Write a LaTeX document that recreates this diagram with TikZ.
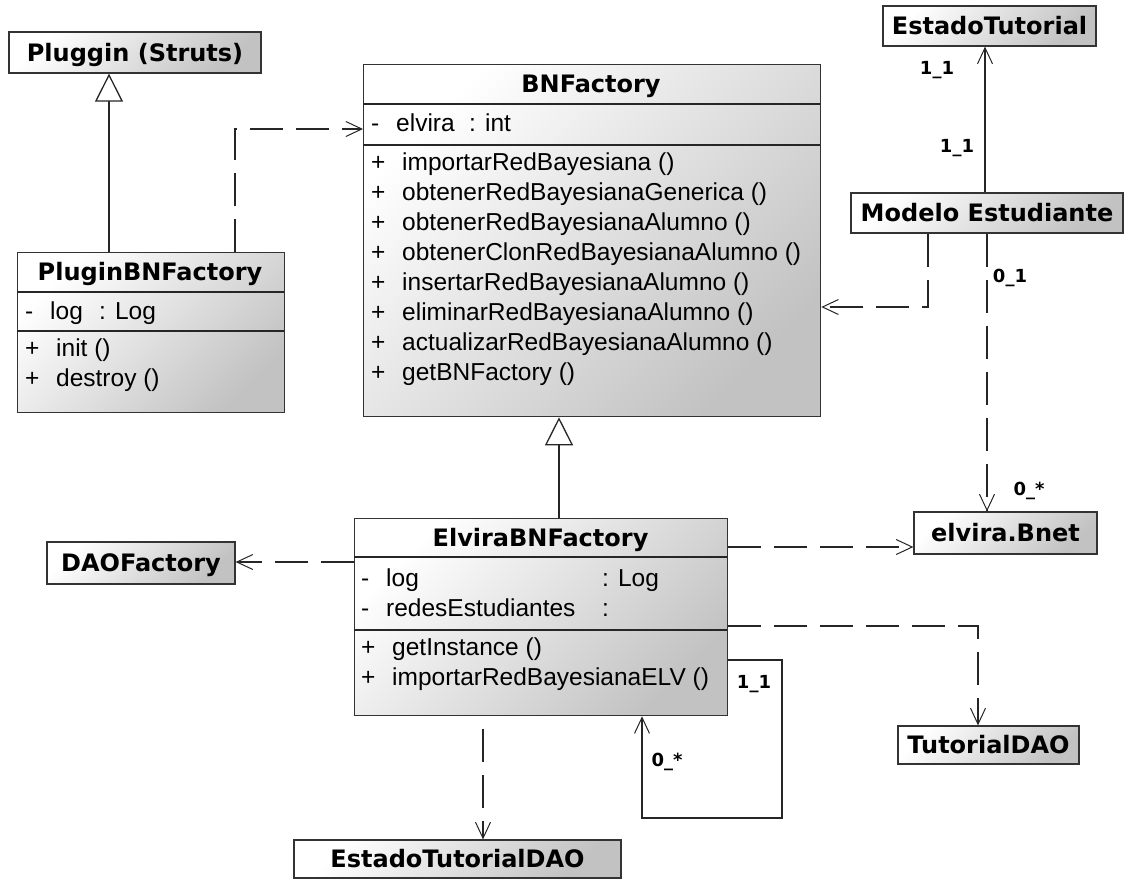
\documentclass[tikz,border=0pt]{standalone}
\usepackage{fontspec}
\setmainfont{Liberation Sans}
\newfontfamily\boxfont{DejaVu Sans}
\usetikzlibrary{arrows.meta}

\newcommand{\pub}{\makebox[31pt][l]{+}}
\newcommand{\priv}{\makebox[25pt][l]{-}}

\begin{document}
\begin{tikzpicture}[x=1pt, y=-1pt,
  shadebox/.style={draw=black!80, line width=1.3pt, inner sep=0pt, top color=white, bottom color=black!24, shading angle=45},
  classbox/.style={shadebox, anchor=north west},
  namebox/.style={shadebox, font=\boxfont\bfseries\fontsize{24}{24}\selectfont, text height=17.5pt, text depth=0pt},
  ctitle/.style={font=\boxfont\bfseries\fontsize{24}{24}\selectfont, text height=17.5pt, text depth=0pt, inner sep=0pt},
  member/.style={anchor=west, inner sep=0pt, font=\fontsize{24.5}{24.5}\selectfont, text height=17pt, text depth=5pt},
  mult/.style={font=\boxfont\bfseries\fontsize{18}{18}\selectfont, inner sep=0pt},
  link/.style={line width=1.2pt, draw=black!85},
  dashlink/.style={link, dash pattern=on 33pt off 13pt},
  opentip/.style={-{Straight Barb[length=16pt, width=15pt, line width=1pt]}},
  gen/.style={link, -{Triangle[open, length=28pt, width=28pt, fill=white, line width=1.3pt]}}]

 \useasboundingbox (0,0) rectangle (1124,879) ;

 %%%%%%%%%% Points pour les liens %%%%%%%%%%
 \coordinate (g1) at (109,160) ;
 \coordinate (g2) at (559,470) ;
 \coordinate (d1) at (235,129) ;
 \coordinate (d2) at (928,307) ;
 \coordinate (d3) at (300,562) ;
 \coordinate (d4) at (800,547) ;
 \coordinate (d5) at (978,626) ;
 \coordinate (d6) at (483,780) ;
 \coordinate (a1) at (985,120) ;
 \coordinate (a2) at (987,380) ;
 \coordinate (s1) at (782,660) ;
 \coordinate (s2) at (782,818) ;
 \coordinate (s3) at (642,818) ;

 %%%%%%%%%% Classes simples %%%%%%%%%%
 \node [namebox, minimum width=252pt, minimum height=41pt] (Plug) at (135,52.5) {Pluggin (Struts)} ;
 \node [namebox, minimum width=213pt, minimum height=40pt] (EstTut) at (989.5,26) {EstadoTutorial} ;
 \node [namebox, minimum width=272pt, minimum height=40pt] (Modelo) at (987,213) {Modelo Estudiante} ;
 \node [namebox, minimum width=183pt, minimum height=42pt] (Bnet) at (1005.5,533) {elvira.Bnet} ;
 \node [namebox, minimum width=188pt, minimum height=42pt] (DAOF) at (141,563) {DAOFactory} ;
 \node [namebox, minimum width=181pt, minimum height=38pt] (TutDAO) at (988.5,745) {TutorialDAO} ;
 \node [namebox, minimum width=327pt, minimum height=38pt] (EstDAO) at (457.5,859) {EstadoTutorialDAO} ;

 %%%%%%%%%% PluginBNFactory %%%%%%%%%%
 \node [classbox, minimum width=267pt, minimum height=160pt] (PlugBNF) at (17,252) {} ;
 \draw [link] (17,292) -- (284,292) ;
 \draw [link] (17,331) -- (284,331) ;
 \node [ctitle] (PlugBNFt) at (150,272) {PluginBNFactory} ;
 \node [member] (pa1) at (25,313) {\priv log} ;
 \node [member] (pa1t) at (99,313) {: Log} ;
 \node [member] (pm1) at (25,350) {\pub init ()} ;
 \node [member] (pm2) at (25,380) {\pub destroy ()} ;

 %%%%%%%%%% BNFactory %%%%%%%%%%
 \node [classbox, minimum width=457pt, minimum height=352pt] (BNF) at (363,64) {} ;
 \draw [link] (363,104) -- (820,104) ;
 \draw [link] (363,145) -- (820,145) ;
 \node [ctitle] (BNFt) at (591,84) {BNFactory} ;
 \node [member] (ba1) at (371,125) {\priv elvira} ;
 \node [member] (ba1t) at (469,125) {: int} ;
 \node [member] (bm1) at (371,164) {\pub importarRedBayesiana ()} ;
 \node [member] (bm2) at (371,194) {\pub obtenerRedBayesianaGenerica ()} ;
 \node [member] (bm3) at (371,224) {\pub obtenerRedBayesianaAlumno ()} ;
 \node [member] (bm4) at (371,254) {\pub obtenerClonRedBayesianaAlumno ()} ;
 \node [member] (bm5) at (371,284) {\pub insertarRedBayesianaAlumno ()} ;
 \node [member] (bm6) at (371,314) {\pub eliminarRedBayesianaAlumno ()} ;
 \node [member] (bm7) at (371,344) {\pub actualizarRedBayesianaAlumno ()} ;
 \node [member] (bm8) at (371,374) {\pub getBNFactory ()} ;

 %%%%%%%%%% ElviraBNFactory %%%%%%%%%%
 \node [classbox, minimum width=373pt, minimum height=197pt] (Elvira) at (354,518) {} ;
 \draw [link] (354,557) -- (727,557) ;
 \draw [link] (354,630) -- (727,630) ;
 \node [ctitle] (Elvirat) at (540.5,538) {ElviraBNFactory} ;
 \node [member] (ea1) at (361,580) {\priv log} ;
 \node [member] (ea1t) at (602,580) {: Log} ;
 \node [member] (ea2) at (361,610) {\priv redesEstudiantes} ;
 \node [member] (ea2t) at (602,610) {:} ;
 \node [member] (em1) at (361,649) {\pub getInstance ()} ;
 \node [member] (em2) at (361,679) {\pub importarRedBayesianaELV ()} ;

 %%%%%%%%%% Heritage %%%%%%%%%%
 \draw [gen] (PlugBNF.north -| g1) -- (Plug.south -| g1) ;
 \draw [gen] (Elvira.north -| g2) -- (BNF.south -| g2) ;

 %%%%%%%%%% Dependances %%%%%%%%%%
 \draw [dashlink, opentip] (PlugBNF.north -| d1) -- (d1) -- (d1 -| BNF.west) ;
 \draw [dashlink, opentip] (Modelo.south -| d2) -- (d2) -- (d2 -| BNF.east) ;
 \draw [dashlink, opentip] (Elvira.west |- d3) -- (DAOF.east |- d3) ;
 \draw [dashlink, opentip] (Elvira.east |- d4) -- (Bnet.west |- d4) ;
 \draw [dashlink, opentip] (Elvira.east |- d5) -- (d5) -- (TutDAO.north -| d5) ;
 \draw [dashlink, opentip, dash phase=33pt] (Elvira.south -| d6) -- (EstDAO.north -| d6) ;

 %%%%%%%%%% Associations %%%%%%%%%%
 \draw [link, opentip] (Modelo.north -| a1) -- (EstTut.south -| a1) ;
 \draw [dashlink, opentip] (Modelo.south -| a2) -- (Bnet.north -| a2) ;
 \draw [link, opentip] (Elvira.east |- s1) -- (s1) -- (s2) -- (s3) -- (Elvira.south -| s3) ;

 %%%%%%%%%% Multiplicites %%%%%%%%%%
 \node [mult] (m1) at (937,70) {1\_1} ;
 \node [mult] (m2) at (957,148) {1\_1} ;
 \node [mult] (m3) at (1010,278) {0\_1} ;
 \node [mult] (m4) at (1029,491) {0\_*} ;
 \node [mult] (m5) at (754,684) {1\_1} ;
 \node [mult] (m6) at (667,762) {0\_*} ;

\end{tikzpicture}
\end{document}
